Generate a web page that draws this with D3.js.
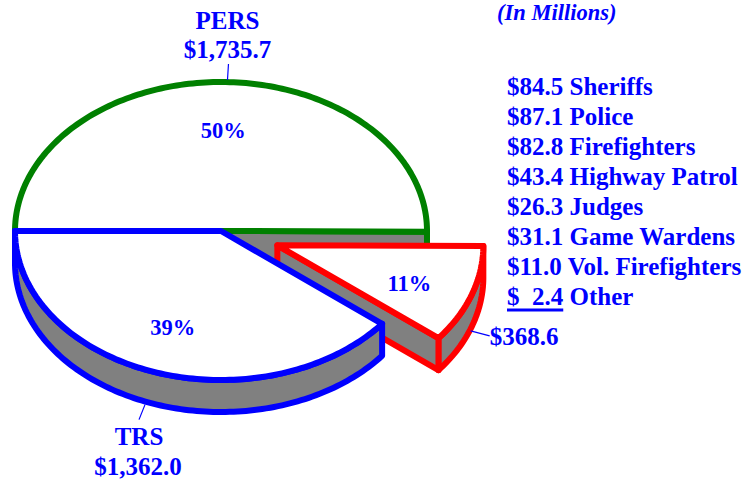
<!DOCTYPE html>
<html><head><meta charset="utf-8">
<script src="https://cdn.jsdelivr.net/npm/d3@7"></script>
<style>
body{margin:0;background:#fff;}
svg{display:block;}
text{font-family:"Liberation Serif","Times New Roman",serif;font-weight:bold;fill:#0000ff;}
</style>
</head><body><svg id="c" width="752" height="481"></svg>
<script>
// ---- data ----
const sliceNames = ["PERS", "Other", "TRS"];
const sliceValues = [1735.7, 368.6, 1362.0];
const sliceAmounts = ["$1,735.7", "$368.6", "$1,362.0"];
const slicePercents = ["50%", "11%", "39%"];
const legendAmounts = ["$84.5", "$87.1", "$82.8", "$43.4", "$26.3", "$31.1", "$11.0", "$  2.4"];
const legendNames = ["Sheriffs", "Police", "Firefighters", "Highway Patrol", "Judges", "Game Wardens", "Vol. Firefighters", "Other"];
const unitsLabel = "(In Millions)";

// ---- style / layout ----
const colors = {PERS: "#008000", Other: "#ff0000", TRS: "#0000ff"};
const explodeFrac = {Other: 0.29};
const cx = 221, cy = 231, rx = 206, ry = 149, depth = 32;
const SW = 6;

const svg = d3.select("#c");
const pie = d3.pie().sort(null).value(d => d.value)
  .startAngle(1.5 * Math.PI).endAngle(3.5 * Math.PI);
const arcs = pie(sliceNames.map((n, i) => ({name: n, value: sliceValues[i], amount: sliceAmounts[i], pct: slicePercents[i]})));
const line = d3.line();
const poly = pts => line(pts) + "Z";

const slices = arcs.map(a => {
  const t0 = a.startAngle - Math.PI / 2, t1 = a.endAngle - Math.PI / 2;
  const mid = (t0 + t1) / 2;
  const k = explodeFrac[a.data.name] || 0;
  const ox = cx + k * rx * Math.cos(mid), oy = cy + k * ry * Math.sin(mid);
  return {a, t0, t1, mid, ox, oy, name: a.data.name};
});

function pt(s, t, z) { return [s.ox + rx * Math.cos(t), s.oy + ry * Math.sin(t) + z]; }
function arcPts(s, lo, hi, z) {
  const n = Math.max(2, Math.ceil((hi - lo) / 0.02));
  return d3.range(n + 1).map(i => pt(s, lo + (hi - lo) * i / n, z));
}

const g = svg.append("g").attr("stroke-linejoin", "round").attr("stroke-linecap", "round");

slices.forEach(s => {
  const col = colors[s.name];
  const sg = g.append("g").attr("stroke", col).attr("stroke-width", SW);
  // outer walls (front half only)
  for (let k = -1; k <= 2; k++) {
    const lo = Math.max(s.t0, 2 * Math.PI * k), hi = Math.min(s.t1, 2 * Math.PI * k + Math.PI);
    if (hi > lo + 1e-6) {
      const top = arcPts(s, lo, hi, 0), bot = arcPts(s, lo, hi, depth).reverse();
      sg.append("path").attr("d", poly(top.concat(bot))).attr("fill", "#808080");
    }
  }
  // radial faces
  const faces = [];
  if (Math.cos(s.t0) < -1e-6) faces.push(s.t0);
  if (Math.cos(s.t1) > 1e-6) faces.push(s.t1);
  faces.forEach(t => {
    const p0 = [s.ox, s.oy], p1 = pt(s, t, 0), p2 = pt(s, t, depth), p3 = [s.ox, s.oy + depth];
    sg.append("path").attr("d", poly([p0, p1, p2, p3])).attr("fill", "#808080");
  });
  // top face
  sg.append("path").attr("d", poly([[s.ox, s.oy]].concat(arcPts(s, s.t0, s.t1, 0)))).attr("fill", "#fff");
});

// percentage labels
const pctOffset = {PERS: [2, 0], Other: [0, 4], TRS: [-2, 0]};
slices.forEach(s => {
  const f = 0.68;
  const x = s.ox + rx * f * Math.cos(s.mid) + pctOffset[s.name][0];
  const y = s.oy + ry * f * Math.sin(s.mid) + pctOffset[s.name][1];
  svg.append("text").attr("x", x).attr("y", y).attr("dy", "0.35em")
    .attr("text-anchor", "middle").attr("font-size", 22.5).text(s.a.data.pct);
});

// outer labels with leaders
slices.forEach(s => {
  const front = Math.sin(s.mid) > 0;
  const start = pt(s, s.mid, front ? depth : 0);
  const lg = svg.append("g");
  if (s.name === "PERS") {
    const end = [start[0] + 6, start[1] - 18];
    lg.append("line").attr("x1", start[0] + 6).attr("y1", start[1] - 2).attr("x2", end[0] + 1).attr("y2", end[1]).attr("stroke", "#0000ff").attr("stroke-width", 1.2);
    lg.append("text").attr("x", end[0]).attr("y", end[1] - 35).attr("text-anchor", "middle").attr("font-size", 25).text(s.name);
    lg.append("text").attr("x", end[0]).attr("y", end[1] - 6).attr("text-anchor", "middle").attr("font-size", 25).text(s.a.data.amount);
  } else if (s.name === "TRS") {
    const st = [start[0] - 8, start[1] + 1];
    const end = [st[0] - 6, st[1] + 15];
    lg.append("line").attr("x1", st[0]).attr("y1", st[1]).attr("x2", end[0]).attr("y2", end[1]).attr("stroke", "#0000ff").attr("stroke-width", 1.2);
    lg.append("text").attr("x", end[0]).attr("y", end[1] + 25).attr("text-anchor", "middle").attr("font-size", 25).text(s.name);
    lg.append("text").attr("x", end[0] - 1).attr("y", end[1] + 55).attr("text-anchor", "middle").attr("font-size", 25).text(s.a.data.amount);
  } else {
    const st = [start[0] - 1, start[1] + 4];
    const end = [st[0] + 19, st[1] + 5];
    lg.append("line").attr("x1", st[0]).attr("y1", st[1]).attr("x2", end[0]).attr("y2", end[1]).attr("stroke", "#0000ff").attr("stroke-width", 1.2);
    lg.append("text").attr("x", end[0]).attr("y", end[1] + 9).attr("font-size", 25).text(s.a.data.amount);
  }
});

// units label
svg.append("text").attr("x", 497).attr("y", 20).attr("font-size", 22.5)
  .attr("font-style", "italic").text(unitsLabel);

// legend
const lx = 507, ly0 = 95, lh = 30;
legendAmounts.forEach((amt, i) => {
  const y = ly0 + i * lh;
  const t = svg.append("text").attr("x", lx).attr("y", y).attr("font-size", 25)
    .attr("xml:space", "preserve").style("white-space", "pre");
  const ts = t.append("tspan").text(amt);
  t.append("tspan").text(" " + legendNames[i]);
  if (i === legendAmounts.length - 1) {
    const w = t.node().getSubStringLength(0, amt.length);
    svg.append("line").attr("x1", lx).attr("x2", lx + w).attr("y1", y + 5).attr("y2", y + 5)
      .attr("stroke", "#0000ff").attr("stroke-width", 3);
  }
});
</script>
</body></html>
